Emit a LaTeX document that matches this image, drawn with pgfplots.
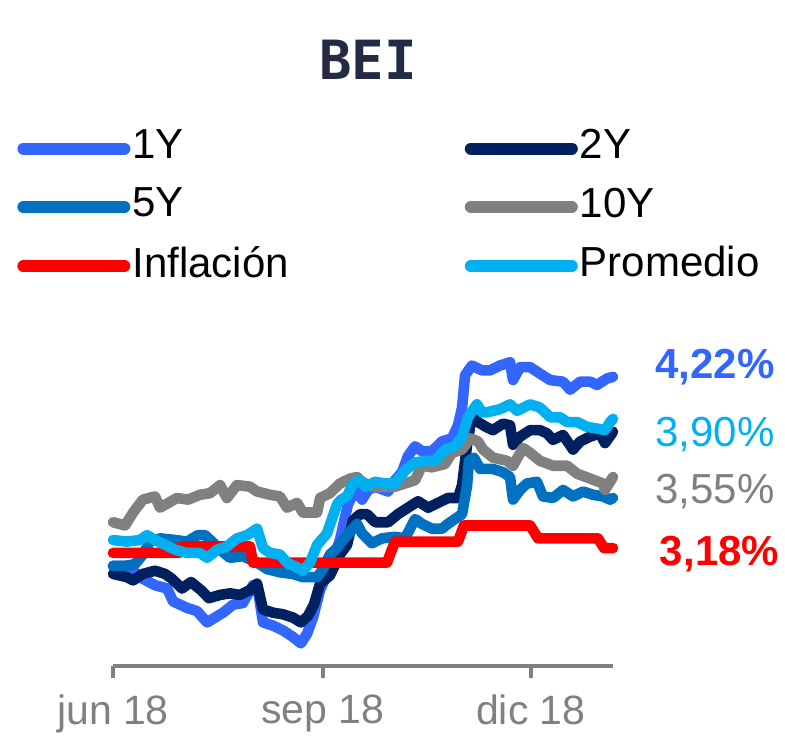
\documentclass[border=0pt]{standalone}
\usepackage{pgfplots}
\pgfplotsset{compat=1.18}
\usepackage{fontspec}
\setmainfont{Liberation Sans}
\newfontfamily\titlefont{DejaVu Sans Mono}
\definecolor{c1y}{HTML}{3366FF}
\definecolor{c2y}{HTML}{002060}
\definecolor{c5y}{HTML}{0070C0}
\definecolor{c10y}{HTML}{808080}
\definecolor{cinf}{HTML}{FF0000}
\definecolor{cprom}{HTML}{00B0F0}
\definecolor{ctitle}{HTML}{222A44}

\begin{document}
\begin{tikzpicture}
\useasboundingbox (-56.5pt,-39.5pt) rectangle (336pt,333pt);
\begin{axis}[
    at={(0,0)}, anchor=south west,
    scale only axis,
    width=250pt, height=157.5pt,
    xmin=0, xmax=219,
    ymin=2.45, ymax=4.40,
    clip=false,
    axis y line=none,
    axis x line*=bottom,
    x axis line style={draw=c10y, line width=2pt, -},
    xtick={0,92,183},
    xticklabels={jun 18, sep 18, dic 18},
    tick align=outside,
    major tick length=6pt,
    xtick style={draw=c10y, line width=2pt},
    xticklabel style={font=\fontsize{20.5pt}{24pt}\selectfont, text=c10y, yshift=-5pt},
    every axis plot/.append style={line width=5.3pt, line join=round, line cap=round, no markers},
    legend columns=2,
    legend cell align=left,
    legend image code/.code={\draw[#1, line width=6pt, line cap=round] (3pt,-1.5pt) -- (53.5pt,-1.5pt);},
    legend style={at={(-0.192,1.711)}, anchor=north west, draw=none, fill=none,
        font=\fontsize{21pt}{25pt}\selectfont, inner sep=0pt, row sep=11pt,
        nodes={inner sep=1pt},
        /tikz/every even column/.append style={column sep=87pt}},
]
\addplot[c1y] coordinates {
(0,3.07)(5.3,3.07)(8.8,3.04)(13.1,2.99)(18.4,2.95)(23.7,2.93)(26.3,2.85)(32.4,2.81)
(36.8,2.79)(41.2,2.72)(44.7,2.75)(48.2,2.78)(52.6,2.83)(56.9,2.84)(61.3,2.95)(63.5,2.92)
(65.7,2.72)(70.1,2.70)(74.5,2.67)(78.8,2.63)(82.3,2.59)(85,2.65)(87.6,2.75)(90.7,2.92)
(95,3.06)(99.4,3.23)(102.9,3.45)(106,3.54)(109.1,3.48)(111.7,3.54)(114.8,3.56)(120.5,3.53)
(123.5,3.60)(126.6,3.65)(129.2,3.75)(132.3,3.81)(135.3,3.78)(139.7,3.78)(144.1,3.84)(148.5,3.86)
(151.1,3.94)(152.9,4.05)(154.2,4.25)(157.2,4.31)(161.6,4.28)(165.1,4.28)(169.5,4.31)(173.9,4.33)
(175.2,4.22)(178.3,4.30)(182.7,4.30)(187,4.26)(191.5,4.22)(197.1,4.21)(200.2,4.16)(204.6,4.21)
(209,4.21)(212,4.19)(216.4,4.23)(219,4.24)
};
\addlegendentry{1Y}
\addplot[c2y] coordinates {
(0,3.02)(6.1,3.00)(8.8,2.98)(13.1,3.02)(18.4,3.04)(22.8,3.02)(25.8,2.99)(30.2,2.93)
(34.2,2.97)(38.5,2.92)(42,2.87)(46.9,2.89)(51.2,2.90)(55.6,2.89)(60,2.92)(63.1,2.96)
(65.7,2.80)(70.1,2.78)(74.5,2.77)(78.8,2.75)(82.3,2.72)(85.4,2.76)(88,2.83)(90.7,2.96)
(95,3.01)(99.4,3.14)(102.5,3.20)(105.1,3.35)(108.2,3.39)(111.3,3.39)(114.8,3.34)(120.5,3.34)
(124.8,3.39)(129.2,3.43)(133.6,3.47)(138,3.43)(142.4,3.46)(146.7,3.49)(151.1,3.49)(152.9,3.57)
(155.1,3.82)(157.2,4.00)(159.9,3.96)(163.4,3.93)(166.4,3.91)(170.8,3.95)(173.9,3.94)(175.2,3.82)
(178.3,3.87)(182.7,3.91)(187,3.91)(190.1,3.89)(192.7,3.85)(197.1,3.88)(201.5,3.79)(204.6,3.84)
(209,3.87)(213.3,3.89)(215.5,3.83)(219,3.90)
};
\addlegendentry{2Y}
\addplot[c5y] coordinates {
(0,3.07)(5.3,3.07)(9.6,3.08)(13.1,3.14)(16.2,3.22)(20.6,3.24)(27.2,3.23)(32.4,3.22)
(37.2,3.26)(40.3,3.26)(43.4,3.22)(46.9,3.17)(51.2,3.12)(56.9,3.13)(63.1,3.09)(67.5,3.05)
(73.1,3.03)(78.8,3.02)(83.2,3.00)(89.4,3.00)(92,3.05)(95,3.14)(98.1,3.18)(100.7,3.23)
(103.8,3.28)(106.9,3.33)(109.1,3.27)(113.4,3.21)(117.8,3.24)(123.5,3.25)(127.9,3.24)(132.3,3.36)
(135.3,3.33)(139.7,3.30)(144.1,3.30)(146.7,3.33)(149.8,3.36)(152.9,3.39)(155.1,3.57)(155.9,3.72)
(158.1,3.74)(160.8,3.67)(166.4,3.67)(170.8,3.65)(173.9,3.62)(175.2,3.48)(178.3,3.54)(181.3,3.58)
(185.7,3.59)(188.3,3.50)(192.7,3.49)(197.1,3.54)(201.5,3.50)(205.9,3.53)(210.2,3.51)(214.6,3.50)
(217.7,3.48)(219,3.49)
};
\addlegendentry{5Y}
\addplot[c10y] coordinates {
(0,3.34)(5.3,3.32)(8.8,3.40)(13.1,3.48)(18.4,3.50)(20.6,3.43)(28,3.49)(32.9,3.48)
(38.1,3.51)(42.5,3.52)(46.9,3.57)(49.9,3.49)(54.3,3.57)(60,3.56)(63.1,3.53)(68.8,3.51)
(73.1,3.50)(76.2,3.43)(80.6,3.46)(83.2,3.40)(89.4,3.40)(90.7,3.49)(95,3.52)(99.4,3.58)
(103.8,3.61)(106.9,3.62)(109.1,3.59)(113.4,3.56)(117.8,3.56)(123.5,3.56)(127.9,3.58)(132.3,3.60)
(135.3,3.69)(139.7,3.68)(145.4,3.70)(148.5,3.77)(152.9,3.79)(156.4,3.86)(159.9,3.84)(162.1,3.79)
(166.4,3.74)(172.6,3.72)(175.2,3.69)(179.6,3.80)(182.7,3.77)(187,3.72)(192.7,3.69)(198.9,3.69)
(203.3,3.64)(209,3.61)(214.6,3.58)(215.5,3.54)(219,3.62)
};
\addlegendentry{10Y}
\addplot[cinf] coordinates {
(0,3.15)(28.9,3.15)(29.8,3.19)(60,3.19)(61.3,3.09)(120,3.09)(123.5,3.22)(151.1,3.22)
(153.7,3.32)(182.7,3.32)(186.2,3.24)(212.4,3.24)(215.1,3.18)(219,3.18)
};
\addlegendentry{Inflación}
\addplot[cprom] coordinates {
(0,3.23)(6.1,3.22)(11.8,3.23)(14.9,3.26)(18.4,3.23)(22.8,3.20)(27.2,3.17)(32.4,3.15)
(38.1,3.15)(41.2,3.12)(45.6,3.17)(49.9,3.19)(54.3,3.24)(58.7,3.26)(63.1,3.30)(65.7,3.18)
(68.8,3.15)(73.1,3.14)(76.2,3.09)(80.6,3.06)(83.2,3.04)(86.3,3.09)(89.4,3.20)(93.7,3.27)
(98.1,3.45)(99.9,3.48)(102.5,3.50)(105.1,3.58)(108.2,3.60)(110.4,3.56)(114.8,3.59)(119.1,3.58)
(123.5,3.58)(127.9,3.66)(132.3,3.71)(136.7,3.72)(141,3.72)(145.4,3.79)(149.8,3.81)(152.9,3.87)
(155.5,3.99)(159.4,4.07)(161.6,4.02)(163.8,4.02)(169.5,4.04)(173.9,4.07)(177,4.03)(182.7,4.07)
(187,4.05)(191.5,3.99)(195.8,3.99)(198.9,3.96)(203.3,3.96)(207.7,3.93)(212,3.92)(215.5,3.91)
(217.7,3.96)(219,3.98)
};
\addlegendentry{Promedio}

\node[anchor=center, text=ctitle, font=\titlefont\bfseries\fontsize{27pt}{30pt}\selectfont]
    at (axis description cs:0.51,1.924) {BEI};
\node[anchor=west, inner sep=0pt, text=c1y, font=\bfseries\fontsize{21pt}{24pt}\selectfont]
    at (axis cs:237.4,4.30) {4,22\%};
\node[anchor=west, inner sep=0pt, text=cprom, font=\fontsize{21pt}{24pt}\selectfont]
    at (axis cs:237.4,3.88) {3,90\%};
\node[anchor=west, inner sep=0pt, text=c10y, font=\fontsize{21pt}{24pt}\selectfont]
    at (axis cs:237.4,3.53) {3,55\%};
\node[anchor=west, inner sep=0pt, text=cinf, font=\bfseries\fontsize{21pt}{24pt}\selectfont]
    at (axis cs:239.4,3.14) {3,18\%};
\end{axis}
\end{tikzpicture}
\end{document}
